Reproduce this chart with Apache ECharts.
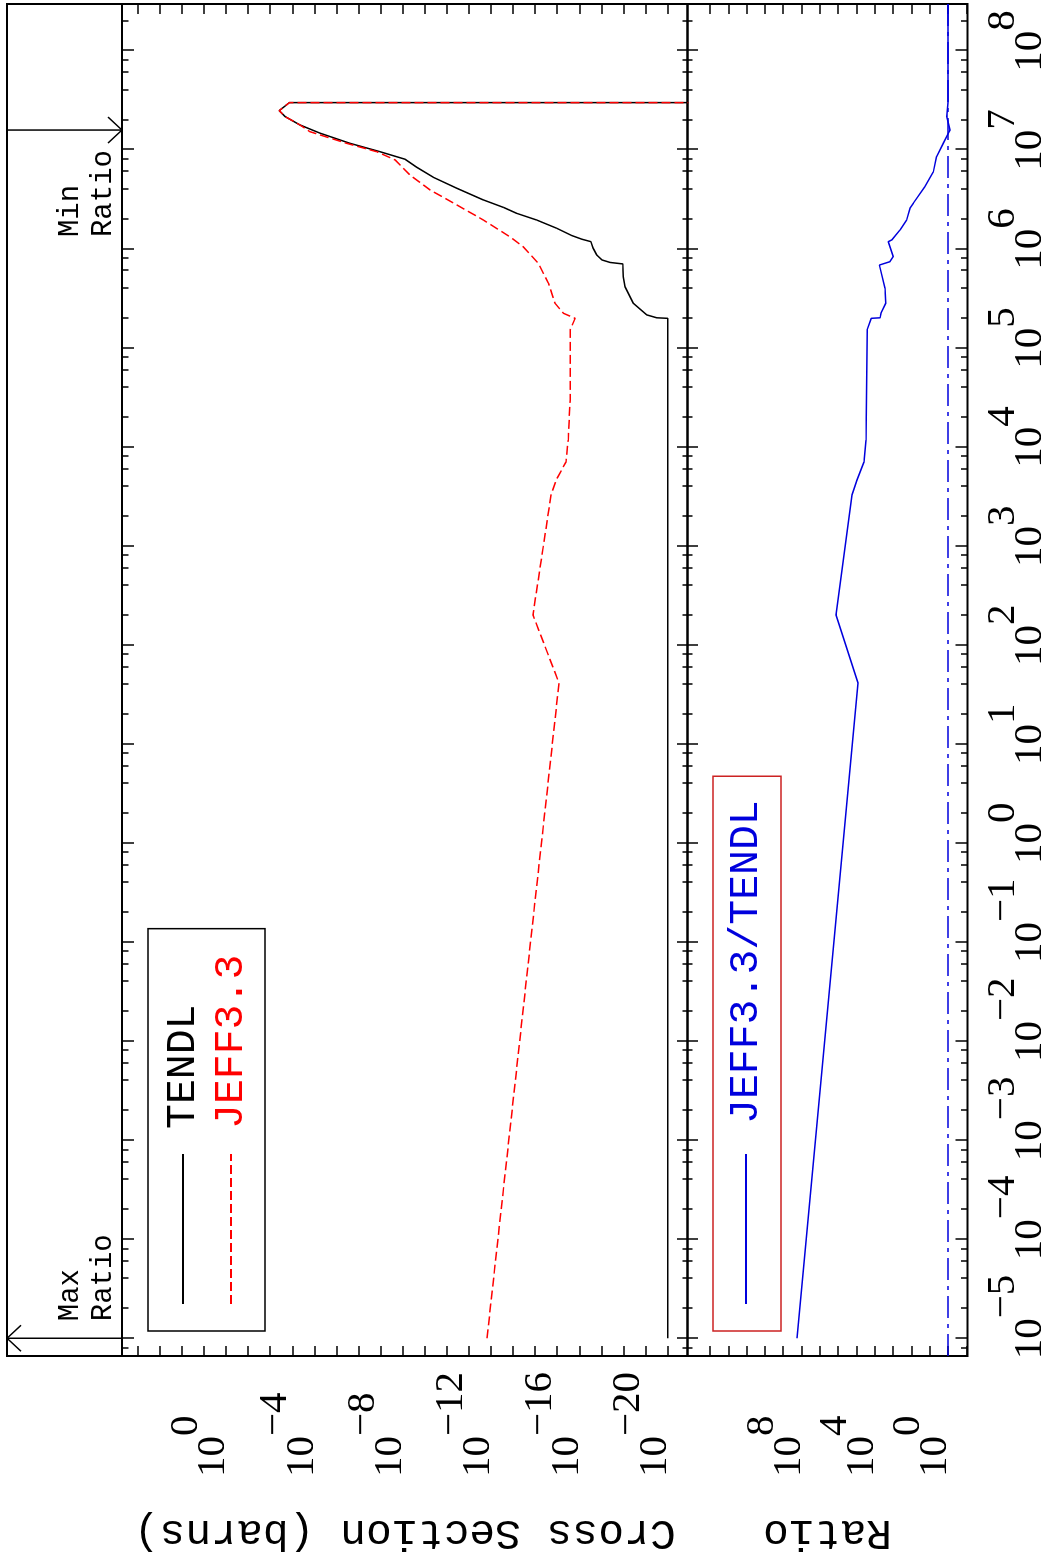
<!DOCTYPE html>
<html><head><meta charset="utf-8">
<script src="https://cdn.jsdelivr.net/npm/echarts@6/dist/echarts.min.js"></script>
<style>
html,body{margin:0;padding:0;width:1046px;height:1568px;overflow:hidden;background:#fff;}
#chart{position:absolute;left:0;top:0;width:1568px;height:1046px;transform-origin:0 0;transform:translate(0px,1568px) rotate(-90deg);}
</style></head><body><div id="chart"></div>
<script>
// ---- data: energy (eV), cross section (barns), ratio ----
const tendl = [[1e-5,1e-20],[1.985e5,1e-20],[2.01e5,3.1e-20],[2.15e5,8.9e-20],[2.82e5,3.6e-19],[4.14e5,8.5e-19],[5.22e5,1.02e-18],[7.03e5,1.07e-18],[7.28e5,4.1e-18],[7.71e5,9.3e-18],[8.65e5,1.62e-17],[1.02e6,2.4e-17],[1.18e6,3.0e-17],[1.25e6,7.8e-17],[1.36e6,2.2e-16],[1.61e6,1.05e-15],[1.95e6,8.5e-15],[2.28e6,6.9e-14],[2.62e6,2.75e-13],[3.11e6,2.2e-12],[4.08e6,3.5e-11],[5.27e6,4.1e-10],[6.65e6,2.3e-9],[8.02e6,7.8e-9],[9.55e6,1.07e-7],[1.16e7,2.4e-6],[1.47e7,5.5e-5],[1.78e7,4.5e-4],[2.16e7,2.1e-3],[2.48e7,3.9e-3],[2.99e7,1.35e-3],[2.99e7,1e-30]];
const jeff = [[1e-5,1.51e-12],[41.3,8.3e-16],[201,1.26e-14],[3270,1.9e-15],[4630,1.12e-15],[7050,4.0e-16],[1.17e4,3.2e-16],[2.98e4,2.6e-16],[7.55e4,2.6e-16],[1.52e5,2.6e-16],[1.985e5,1.55e-16],[2.23e5,5.2e-16],[2.82e5,1.26e-15],[4.49e5,2.5e-15],[7.14e5,7.2e-15],[1.05e6,3.5e-14],[1.32e6,1.38e-13],[1.95e6,2.2e-12],[2.77e6,3.5e-11],[3.93e6,5.8e-10],[5.56e6,4.7e-9],[7.89e6,2.2e-8],[9.55e6,1.48e-7],[1.16e7,3.4e-6],[1.52e7,1.58e-4],[1.78e7,4.5e-4],[2.16e7,2.1e-3],[2.48e7,3.9e-3],[2.99e7,1.35e-3],[2.99e7,1e-30]];
const ratio = [[1e-5,1.78e8],[41.3,8.3e4],[201,1.32e6],[3270,1.74e5],[4630,9.3e4],[7050,3.9e4],[1.17e4,3.0e4],[1.52e5,2.6e4],[1.985e5,1.55e4],[2.01e5,5.1e3],[2.23e5,4.6e3],[2.82e5,2.5e3],[3.99e5,2.75e3],[6.85e5,5.6e3],[7.41e5,1.48e3],[8.32e5,980],[1.18e6,1.82e3],[1.23e6,1.17e3],[1.55e6,417],[1.95e6,182],[2.56e6,120],[2.88e6,79],[4.24e6,18.2],[6.0e6,6.3],[8.51e6,4.2],[1.16e7,1.82],[1.47e7,0.95],[1.58e7,0.78],[2.16e7,1.17],[2.99e7,1.0],[2.96e8,1.0]];
const unity = [[6.62e-6,1],[2.96e8,1]];
const energyRange = [6.62e-6, 2.96e8];
const xsRange = [1.26e-21, 5.13e4];
const ratioRange = [0.0861, 1.69e14];
const energyTickExps = [-5,-4,-3,-2,-1,0,1,2,3,4,5,6,7,8];
const minorMultipliers = [2,4,6,8];
const xsTickExps = [4,3,2,1,0,-1,-2,-3,-4,-5,-6,-7,-8,-9,-10,-11,-12,-13,-14,-15,-16,-17,-18,-19,-20];
const xsLabelExps = [0,-4,-8,-12,-16,-20];
const ratioTickExps = [-1,0,1,2,3,4,5,6,7,8,9,10,11,12,13];
const ratioLabelExps = [8,4,0];
const extremes = [{e:1e-5, kind:'max', text:'Max\nRatio'},{e:1.58e7, kind:'min', text:'Min\nRatio'}];

// ---- build ----
const L = Math.log10;
const eMin = L(energyRange[0]), eMax = L(energyRange[1]);
const minorE = [];
for (let d = -6; d <= 8; d++) for (const k of minorMultipliers) { const v = d + L(k); if (v > eMin && v < eMax) minorE.push(v); }
const toLog = arr => arr.map(p => [L(p[0]), L(p[1])]);

const NUMF = '"Liberation Serif", "DejaVu Serif", serif';
const MONO = '"Liberation Mono", "DejaVu Sans Mono", monospace';
const numRich = {
  b: {fontFamily: NUMF, fontSize: 41, color: '#000', lineHeight: 60, padding: [27,0,0,0], verticalAlign: 'top', align: 'left'},
  s: {fontFamily: NUMF, fontSize: 41, color: '#000', lineHeight: 60, padding: [0,0,0,0], verticalAlign: 'top', align: 'left'},
  z: {fontFamily: NUMF, fontSize: 41, color: '#000', lineHeight: 60, padding: [0,0,0,0], verticalAlign: 'top', align: 'left', width: 1}
};
const expStr = v => { const n = Math.round(v); return n < 0 ? '\u2212' + (-n) : String(n); };
const tickLine = {color: '#000', width: 1.5};

function eAxis(grid, pos, len, vals, withLabels) {
  const ax = {type: 'value', gridIndex: grid, position: pos, min: eMin, max: eMax,
    axisLine: {show: false, onZero: false}, splitLine: {show: false},
    axisTick: vals ? {show: true, inside: true, length: len, customValues: vals, lineStyle: tickLine} : {show: false},
    axisLabel: {show: false}};
  if (withLabels) {
    ax.axisLabel = {show: true, customValues: energyTickExps, margin: 15, align: 'center', verticalAlign: 'top',
      showMinLabel: true, showMaxLabel: true, hideOverlap: false,
      formatter: v => '{b|10}{z|' + expStr(v) + '}', rich: numRich};
  }
  return ax;
}
function vAxis(grid, pos, mn, mx, ticks, labels, name) {
  const ax = {type: 'value', gridIndex: grid, position: pos, min: mn, max: mx,
    axisLine: {show: false, onZero: false}, splitLine: {show: false},
    axisTick: ticks ? {show: true, inside: true, length: 10, customValues: ticks, lineStyle: tickLine} : {show: false},
    axisLabel: {show: false}};
  if (labels) {
    ax.axisLabel = {show: true, customValues: labels, margin: 121, align: 'left', verticalAlign: 'bottom',
      showMinLabel: true, showMaxLabel: true,
      formatter: v => '{b|10}{s|' + expStr(v) + '}', rich: numRich};
  }
  if (name) {
    ax.name = name; ax.nameLocation = 'middle'; ax.nameRotate = 90; ax.nameGap = 155;
    ax.nameTextStyle = {fontFamily: MONO, fontSize: 43, color: '#000'};
  }
  return ax;
}

const xsMin = L(xsRange[0]), xsMax = L(xsRange[1]);
const rMin = L(ratioRange[0]), rMax = L(ratioRange[1]);
const gridBase = {left: 212, right: 4, show: true, borderColor: '#000', borderWidth: 2, backgroundColor: 'transparent', outerBoundsMode: 'none'};
const legendText = {fontFamily: MONO, fontSize: 41.5, lineHeight: 40};

const option = {
  animation: false,
  backgroundColor: '#fff',
  grid: [
    Object.assign({}, gridBase, {top: 7, height: 115}),
    Object.assign({}, gridBase, {top: 122, height: 565.5}),
    Object.assign({}, gridBase, {top: 687.5, height: 280})
  ],
  xAxis: [
    eAxis(0, 'bottom', 0, null, false),
    eAxis(1, 'top', 12, energyTickExps, false),
    eAxis(1, 'top', 6.5, minorE, false),
    eAxis(1, 'bottom', 10.5, energyTickExps, false),
    eAxis(1, 'bottom', 5, minorE, false),
    eAxis(2, 'top', 10.5, energyTickExps, false),
    eAxis(2, 'top', 5, minorE, false),
    eAxis(2, 'bottom', 12, energyTickExps, true),
    eAxis(2, 'bottom', 6.5, minorE, false)
  ],
  yAxis: [
    {type: 'value', gridIndex: 0, min: 0, max: 1, show: false},
    vAxis(1, 'left', xsMin, xsMax, xsTickExps, xsLabelExps, 'Cross Section (barns)'),
    vAxis(1, 'right', xsMin, xsMax, xsTickExps, null, null),
    vAxis(2, 'left', rMin, rMax, ratioTickExps, ratioLabelExps, 'Ratio'),
    vAxis(2, 'right', rMin, rMax, ratioTickExps, null, null)
  ],
  legend: [
    {left: 237, top: 148, orient: 'vertical', itemWidth: 150, itemHeight: 20, itemGap: 6,
     padding: [14, 26, 13, 26], borderColor: '#000', borderWidth: 1.5, selectedMode: false,
     itemStyle: {opacity: 0},
     textStyle: Object.assign({padding: [0, 0, 0, 20]}, legendText),
     data: [{name: 'TENDL', textStyle: {color: '#000'}}, {name: 'JEFF3.3', textStyle: {color: '#ff0000'}}]},
    {left: 237, top: 713, orient: 'vertical', itemWidth: 150, itemHeight: 20,
     padding: [12, 24, 14, 26], borderColor: '#cc2222', borderWidth: 1.5, selectedMode: false,
     itemStyle: {opacity: 0},
     textStyle: Object.assign({padding: [0, 0, 0, 25]}, legendText),
     data: [{name: 'JEFF3.3/TENDL', textStyle: {color: '#0000dd'}}]}
  ],
  series: [
    {name: 'TENDL', type: 'line', xAxisIndex: 3, yAxisIndex: 1, data: toLog(tendl), showSymbol: false, symbol: 'none',
     color: '#000', lineStyle: {color: '#000', width: 1.5}, z: 3},
    {name: 'JEFF3.3', type: 'line', xAxisIndex: 3, yAxisIndex: 1, data: toLog(jeff), showSymbol: false, symbol: 'none',
     color: '#ff0000', lineStyle: {color: '#ff0000', width: 1.5, type: [9, 4]}, z: 4},
    {name: 'JEFF3.3/TENDL', type: 'line', xAxisIndex: 7, yAxisIndex: 3, data: toLog(ratio), showSymbol: false, symbol: 'none',
     color: '#0000dd', lineStyle: {color: '#0000dd', width: 1.5}, z: 4},
    {name: 'unity', type: 'line', xAxisIndex: 7, yAxisIndex: 3, data: toLog(unity), showSymbol: false, symbol: 'none',
     color: '#0000dd', lineStyle: {color: '#0000dd', width: 1.5, type: [22, 6, 4, 6]}, z: 3},
    {name: 'extremes', type: 'custom', xAxisIndex: 0, yAxisIndex: 0, clip: false,
     data: extremes.map(d => [L(d.e), d.kind === 'max' ? 1 : 0]),
     renderItem: function (params, api) {
       const d = extremes[params.dataIndex];
       const top = api.coord([api.value(0), 1]), bot = api.coord([api.value(0), 0]);
       const x = top[0];
       const ch = [{type: 'line', shape: {x1: x, y1: top[1], x2: x, y2: bot[1]}, style: {stroke: '#000', lineWidth: 1.5}}];
       const fs = 29;
       if (d.kind === 'max') {
         ch.push({type: 'polyline', shape: {points: [[x - 13, top[1] + 14], [x, top[1]], [x + 13, top[1] + 14]]}, style: {stroke: '#000', fill: null, lineWidth: 1.5}});
         ch.push({type: 'text', style: {text: d.text, x: x + 17, y: bot[1] - 2, align: 'left', verticalAlign: 'bottom', fontFamily: MONO, fontSize: fs, lineHeight: 33, fill: '#000'}});
       } else {
         ch.push({type: 'polyline', shape: {points: [[x - 13, bot[1] - 14], [x, bot[1]], [x + 13, bot[1] - 14]]}, style: {stroke: '#000', fill: null, lineWidth: 1.5}});
         ch.push({type: 'text', style: {text: d.text, x: x - 20 - 5 * 0.6 * fs, y: bot[1] - 2, align: 'left', verticalAlign: 'bottom', fontFamily: MONO, fontSize: fs, lineHeight: 33, fill: '#000'}});
       }
       return {type: 'group', children: ch};
     }}
  ]
};
const chart = echarts.init(document.getElementById('chart'), null, {renderer: 'canvas'});
chart.setOption(option);
</script></body></html>
